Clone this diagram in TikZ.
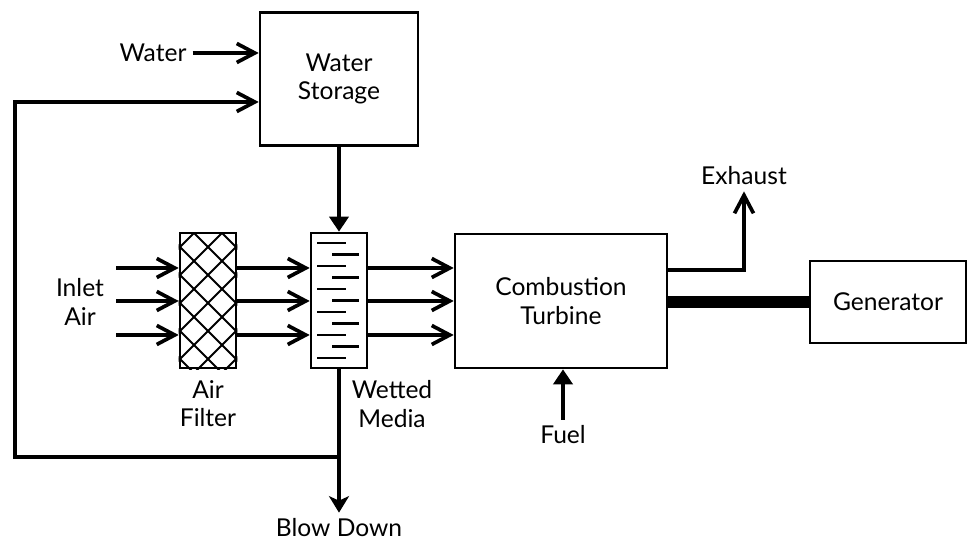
\documentclass[tikz,border=0pt]{standalone}
\usepackage{fontspec}
\setmainfont{Lato}
\usetikzlibrary{arrows.meta}

\begin{document}
\begin{tikzpicture}[
  x=0.02cm,y=-0.02cm,
  font=\fontsize{14}{16}\selectfont,
  box/.style={draw,line width=1.5pt,align=center},
  lbl/.style={align=center},
  pipe/.style={line width=2.1pt},
  arr/.style={pipe,-{Straight Barb[length=3.6mm,width=3.8mm]}},
  farr/.style={pipe,-{Triangle[length=3mm,width=3.8mm]}},
  sarr/.style={pipe,-{Stealth[length=3.3mm,width=4mm,inset=0.9mm]}},
  hatch/.style={line width=1.1pt},
  wet/.style={line width=1.4pt},
  shaft/.style={line width=6.3pt}
]
\useasboundingbox (0,0) rectangle (968,543);
\node[box,minimum width=3.16cm,minimum height=2.66cm] (store) at (339,79) {Water\\Storage};
\node[box,minimum width=1.12cm,minimum height=2.7cm] (filter) at (208,300.5) {};
\node[box,minimum width=1.12cm,minimum height=2.7cm] (media) at (339,300.5) {};
\node[box,minimum width=4.24cm,minimum height=2.68cm] (turbine) at (561,301) {Combustion\\Turbine};
\node[box,minimum width=3.12cm,minimum height=1.64cm] (gen) at (888,302) {Generator};
\node[lbl] (water) at (153,53) {Water};
\node[lbl] (inlet) at (80,302) {Inlet\\Air};
\node[lbl] (filterlbl) at (208,404) {Air\\Filter};
\node[lbl] (medialbl) at (392,404) {Wetted\\Media};
\node[lbl] (exhaust) at (744,176) {Exhaust};
\node[lbl] (fuel) at (563,435) {Fuel};
\node[lbl] (blowdown) at (339,528) {Blow Down};
\begin{scope}
  \clip (filter.south west) rectangle (filter.north east);
  \foreach \a in {26,54,...,390}
    \draw[hatch] (\a,233) -- ++(140,140) (\a,233) -- ++(-140,140);
\end{scope}
\foreach \y in {243,266,...,358}
  \draw[wet] (317,\y) -- (346,\y);
\foreach \y in {254.5,277.5,...,346.5}
  \draw[wet] (332,\y) -- (359,\y);
\foreach \y in {268,301,335} {
  \coordinate (in\y) at (116,\y);
  \draw[arr] (in\y) -- (in\y -| filter.west);
  \draw[arr] (in\y -| filter.east) -- (in\y -| media.west);
  \draw[arr] (in\y -| media.east) -- (in\y -| turbine.west);
}
\coordinate (tee) at (339,457);
\coordinate (corner) at (15,102);
\coordinate (bend) at (744,270);
\draw[arr] (water.east) -- (water.east -| store.west);
\draw[arr] (tee) -- (tee -| corner) -- (corner) -- (corner -| store.west);
\draw[farr] (store.south) -- (media.north);
\draw[sarr] (media.south) -- (blowdown.north);
\draw[arr] (bend -| turbine.east) -- (bend) -- (exhaust.south);
\draw[shaft] (turbine.east |- gen.west) -- (gen.west);
\draw[farr] (fuel.north) -- (fuel.north |- turbine.south);
\end{tikzpicture}
\end{document}
